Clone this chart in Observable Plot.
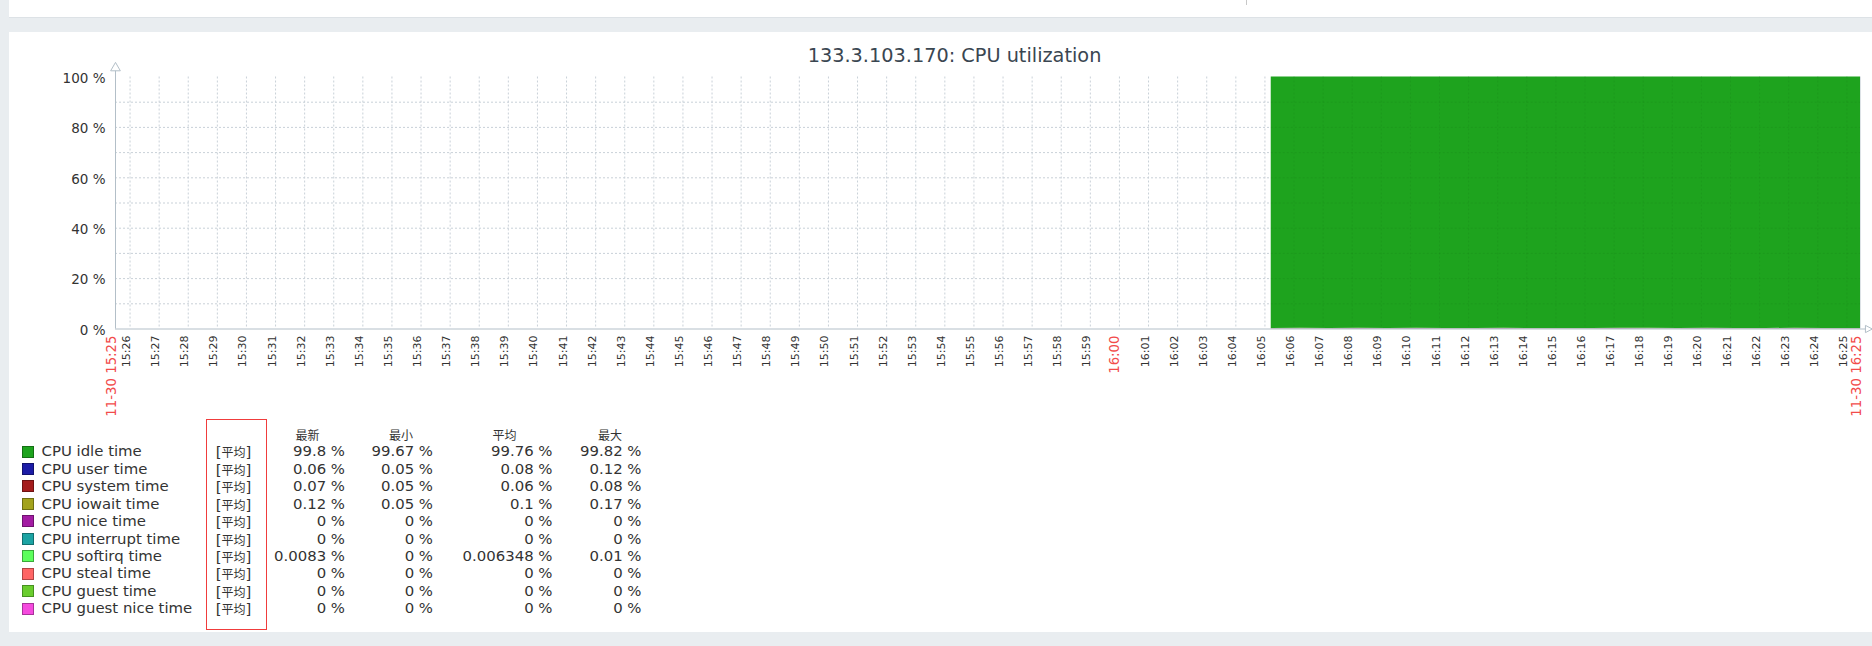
<!DOCTYPE html>
<html>
<head>
<meta charset="utf-8">
<script src="https://cdn.jsdelivr.net/npm/d3@7"></script>
<script src="https://cdn.jsdelivr.net/npm/@observablehq/plot@0.6"></script>
<style>
  html, body { margin: 0; padding: 0; }
  body { width: 1872px; height: 646px; overflow: hidden; position: relative; background: #e9edf0; font-family: "DejaVu Sans", sans-serif; color: #333; }
  .abs { position: absolute; white-space: nowrap; }
  .cjk { font-family: "Noto Sans CJK SC", sans-serif; font-size: 12px; }
</style>
</head>
<body>
<div class="abs" style="left:9px;top:0;width:1863px;height:17px;background:#fff;border-bottom:1px solid #dde2e6;"></div>
<div class="abs" style="left:1246px;top:0;width:1px;height:5px;background:#c8c8c8;"></div>
<div class="abs" style="left:9px;top:32px;width:1863px;height:600px;background:#fff;"></div>
<div id="title" class="abs" style="left:954.5px;top:45.8px;transform:translateX(-50%);font-size:19.3px;line-height:1;color:#3a4651;"></div>
<div id="chart" class="abs" style="left:0;top:40px;"></div>
<div id="legend"></div>
<script>
// ---------- data ----------
const chartTitle = "133.3.103.170: CPU utilization";
const dateLabel = "11-30";
const domainStart = "15:25:30";
const domainEnd = "16:25:28";
const yTicks = [0, 20, 40, 60, 80, 100];
const yGrid = [10, 20, 30, 40, 50, 60, 70, 80, 90];
const minuteLabels = [
  "15:26","15:27","15:28","15:29","15:30","15:31","15:32","15:33","15:34","15:35",
  "15:36","15:37","15:38","15:39","15:40","15:41","15:42","15:43","15:44","15:45",
  "15:46","15:47","15:48","15:49","15:50","15:51","15:52","15:53","15:54","15:55",
  "15:56","15:57","15:58","15:59","16:00","16:01","16:02","16:03","16:04","16:05",
  "16:06","16:07","16:08","16:09","16:10","16:11","16:12","16:13","16:14","16:15",
  "16:16","16:17","16:18","16:19","16:20","16:21","16:22","16:23","16:24","16:25"
];
const redMinuteLabels = ["16:00"];
const boundaryLabels = ["15:25", "16:25"];

const sampleTimes = [
  "16:05:13","16:06:13","16:07:13","16:08:13","16:09:13","16:10:13","16:11:13","16:12:13",
  "16:13:13","16:14:13","16:15:13","16:16:13","16:17:13","16:18:13","16:19:13","16:20:13",
  "16:21:13","16:22:13","16:23:13","16:24:13","16:25:13","16:25:28"
];
const userVals    = [0.07,0.08,0.06,0.12,0.07,0.09,0.05,0.08,0.10,0.07,0.08,0.06,0.09,0.08,0.07,0.09,0.08,0.06,0.11,0.08,0.06,0.06];
const systemVals  = [0.06,0.06,0.06,0.07,0.05,0.06,0.05,0.06,0.07,0.06,0.06,0.05,0.07,0.06,0.05,0.06,0.06,0.05,0.08,0.06,0.07,0.07];
const iowaitVals  = [0.09,0.12,0.08,0.14,0.09,0.10,0.08,0.09,0.10,0.09,0.10,0.09,0.12,0.11,0.09,0.11,0.09,0.08,0.11,0.10,0.07,0.07];
const softirqVals = [0,0,0,0,0,0,0,0,0.01,0,0,0,0,0,0,0,0,0,0.01,0,0,0];
const idleVals    = [99.78,99.74,99.80,99.67,99.79,99.75,99.82,99.77,99.72,99.78,99.76,99.80,99.72,99.75,99.79,99.74,99.77,99.81,99.69,99.76,99.80,99.80];

const seriesNames = ["CPU idle time","CPU user time","CPU system time","CPU iowait time","CPU nice time",
  "CPU interrupt time","CPU softirq time","CPU steal time","CPU guest time","CPU guest nice time"];
const seriesColors = ["#1ea31e","#1c1ca6","#a41c1c","#a3a31c","#a31ca3","#1ca3a3","#5cff5c","#ff6565","#6acd2e","#f54ade"];
const seriesBorders = ["#146e14","#12126e","#6e1212","#6e6e12","#6e126e","#126e6e","#3aa83a","#b04444","#469020","#a8329a"];
const legendFunction = "平均";
const legendHeaders = ["最新","最小","平均","最大"];
const lastVals = [99.8, 0.06, 0.07, 0.12, 0, 0, 0.0083, 0, 0, 0];
const minVals  = [99.67, 0.05, 0.05, 0.05, 0, 0, 0, 0, 0, 0];
const avgVals  = [99.76, 0.08, 0.06, 0.1, 0, 0, 0.006348, 0, 0, 0];
const maxVals  = [99.82, 0.12, 0.08, 0.17, 0, 0, 0.01, 0, 0, 0];

// ---------- build ----------
const T = s => new Date(`2024-11-30T${s.length === 5 ? s + ":00" : s}Z`);
const stackOrder = ["CPU user time","CPU system time","CPU iowait time","CPU softirq time","CPU idle time"];
const seriesValues = {
  "CPU user time": userVals, "CPU system time": systemVals, "CPU iowait time": iowaitVals,
  "CPU softirq time": softirqVals, "CPU idle time": idleVals
};
const rows = [];
for (const name of stackOrder) {
  sampleTimes.forEach((t, i) => rows.push({t: T(t), series: name, value: seriesValues[name][i]}));
}
const xStart = T(domainStart), xEnd = T(domainEnd);
const gridColor = "#c9d1d8";
const axisColor = "#b3bfc8";
const red = "#f24b4b";
const triRight = {
  draw(ctx, size) {
    const h = Math.sqrt(size) * 0.6;
    ctx.moveTo(h, 0);
    ctx.lineTo(-h * 0.8, -h * 0.95);
    ctx.lineTo(-h * 0.8, h * 0.95);
    ctx.closePath();
  }
};
const blackLabels = minuteLabels.filter(d => !redMinuteLabels.includes(d));

const chart = Plot.plot({
  width: 1872, height: 390,
  marginLeft: 115, marginRight: 12, marginTop: 36.5, marginBottom: 101.5,
  x: {type: "utc", domain: [xStart, xEnd], axis: null},
  y: {domain: [0, 100], axis: null},
  color: {domain: seriesNames, range: seriesColors},
  style: {background: "transparent", fontFamily: "DejaVu Sans", overflow: "visible"},
  marks: [
    Plot.ruleY(yGrid, {stroke: gridColor, strokeDasharray: "2,2"}),
    Plot.ruleX(minuteLabels, {x: d => T(d), stroke: gridColor, strokeDasharray: "2,2"}),
    Plot.ruleX([xEnd], {stroke: "#dde2e6"}),
    Plot.areaY(rows, Plot.stackY({x: "t", y: "value", z: "series", fill: "series", order: stackOrder})),
    Plot.ruleY(yGrid, {x1: T(sampleTimes[0]), x2: xEnd, stroke: "#000", strokeOpacity: 0.06, strokeDasharray: "2,2"}),
    Plot.ruleX(minuteLabels.filter(d => T(d) > T(sampleTimes[0])), {x: d => T(d), stroke: "#000", strokeOpacity: 0.06, strokeDasharray: "2,2"}),
    Plot.ruleX([xStart], {stroke: axisColor, insetTop: -9}),
    Plot.ruleY([0], {stroke: axisColor, insetRight: -6}),
    Plot.dot([xStart], {x: d => d, frameAnchor: "top", dy: -9, symbol: "triangle", r: 3.6, stroke: axisColor, fill: "white", strokeWidth: 1}),
    Plot.dot([xEnd], {x: d => d, frameAnchor: "bottom", dx: 8, symbol: triRight, r: 3.6, stroke: axisColor, fill: "white", strokeWidth: 1}),
    Plot.text(yTicks, {y: d => d, frameAnchor: "left", textAnchor: "end", dx: -10, dy: 1.5, text: d => `${d} %`, fontSize: 13.5, fill: "#333"}),
    Plot.text(blackLabels, {x: d => T(d), text: d => d, frameAnchor: "bottom", rotate: -90, textAnchor: "end", dy: 6.5, fontSize: 11, fill: "#333"}),
    Plot.text(redMinuteLabels, {x: d => T(d), text: d => d, frameAnchor: "bottom", rotate: -90, textAnchor: "end", dy: 6.5, fontSize: 13.3, fill: red}),
    Plot.text([xStart, xEnd], {x: d => d, text: (d, i) => `${dateLabel} ${boundaryLabels[i]}`, frameAnchor: "bottom", rotate: -90, textAnchor: "end", dy: 6.5, fontSize: 13.3, fill: red})
  ]
});
document.getElementById("chart").appendChild(chart);
document.getElementById("title").textContent = chartTitle;

// ---------- legend ----------
const legend = document.getElementById("legend");
const add = (html, style) => {
  const el = document.createElement("div");
  el.className = "abs";
  el.style.cssText = style;
  el.innerHTML = html;
  legend.appendChild(el);
};
const rowY = i => 451.5 + i * 17.47;
const fs = "font-size:14.9px;line-height:17px;height:17px;";
// red box
add("", "left:206px;top:419px;width:61px;height:211px;box-sizing:border-box;border:1px solid #f03c3c;");
// headers
const headerCenters = [307.5, 401, 504.5, 610];
legendHeaders.forEach((h, j) => add(h, `left:${headerCenters[j] - 40}px;width:80px;text-align:center;top:${434 - 8.5}px;height:17px;line-height:17px;font-family:'Noto Sans CJK SC';font-size:12px;color:#333;`));
const colRights = [345, 433, 552.5, 641.5];
const cols = [lastVals, minVals, avgVals, maxVals];
seriesNames.forEach((name, i) => {
  const y = rowY(i);
  add("", `left:22px;top:${y - 6}px;width:12px;height:12px;box-sizing:border-box;background:${seriesColors[i]};border:1px solid ${seriesBorders[i]};`);
  add(name, `left:41.5px;top:${y - 8.3}px;${fs}color:#333;`);
  add(`[<span class="cjk">${legendFunction}</span>]`, `left:${233.5 - 40}px;width:80px;text-align:center;top:${y - 8.3}px;${fs}color:#333;`);
  cols.forEach((vals, j) => add(`${vals[i]} %`, `left:${colRights[j] - 200}px;width:200px;text-align:right;top:${y - 8.3}px;${fs}color:#333;`));
});
</script>
</body>
</html>
